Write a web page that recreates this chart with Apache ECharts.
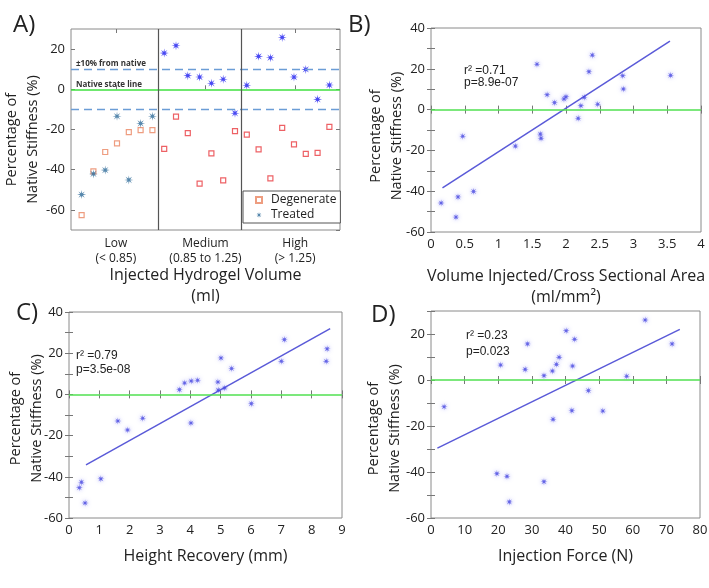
<!DOCTYPE html>
<html>
<head>
<meta charset="utf-8">
<script src="https://cdn.jsdelivr.net/npm/echarts@6/dist/echarts.min.js"></script>
<style>
html, body { margin: 0; padding: 0; background: #fff; }
#chart { width: 709px; height: 588px; }
</style>
</head>
<body>
<div id="chart"></div>
<script>
// A) stiffness per sample, grouped by injected volume
var groupLabels = ['Low\n(< 0.85)', 'Medium\n(0.85 to 1.25)', 'High\n(> 1.25)'];
var groupEdges = [7.5, 14.5];
var sampleIdx = [1, 2, 3, 4, 5, 6, 7, 8, 9, 10, 11, 12, 13, 14, 15, 16, 17, 18, 19, 20, 21, 22];
var degenerate = [-62.6, -40.8, -31.2, -26.9, -21.3, -20.3, -20.3, -29.6, -13.6, -21.8, -46.9, -31.9, -45.3, -20.8, -22.5, -29.9, -44.3, -19.2, -27.4, -32.1, -31.6, -18.7];
var treated = [-52.4, -42.1, -40.2, -13.4, -45.1, -17.0, -13.4, 18.0, 21.7, 6.8, 6.1, 3.0, 5.0, -11.9, 2.0, 16.4, 15.7, 25.8, 6.1, 9.9, -5.0, 2.1];

// B) volume / cross sectional area
var volX = [0.15, 0.40, 0.37, 0.47, 0.63, 1.25, 1.57, 1.62, 1.63, 1.72, 1.83, 1.97, 2.00, 2.18, 2.22, 2.27, 2.34, 2.39, 2.47, 2.84, 2.85, 3.55];
var volY = [-45.8, -42.8, -52.7, -13.1, -40.1, -17.9, 22.2, -12.0, -14.1, 7.3, 3.4, 5.2, 6.3, -4.3, 1.9, 6.0, 18.6, 26.7, 2.6, 16.6, 10.1, 16.8];
var volFit = [[0.17, -38.4], [3.54, 33.6]];

// C) height recovery
var heightX = [0.34, 0.41, 0.53, 1.05, 1.61, 1.93, 2.43, 3.64, 3.81, 4.03, 4.02, 4.24, 4.91, 4.92, 5.01, 5.13, 5.36, 6.01, 7.00, 7.10, 8.48, 8.51];
var heightY = [-45.3, -42.6, -52.7, -41.0, -12.9, -17.3, -11.6, 2.3, 5.5, 6.5, -13.9, 6.9, 6.0, 2.1, 17.7, 3.1, 12.6, -4.5, 16.1, 26.6, 16.1, 22.1];
var heightFit = [[0.56, -34.2], [8.61, 31.9]];

// D) injection force
var forceX = [3.9, 19.6, 20.7, 22.6, 23.3, 28.0, 28.7, 33.6, 33.6, 36.1, 36.3, 37.3, 38.1, 40.2, 41.9, 42.1, 42.7, 46.8, 51.1, 58.2, 63.7, 71.7];
var forceY = [-11.6, -40.7, 6.5, -41.9, -53.0, 4.6, 15.7, 1.9, -44.2, 3.9, -17.1, 6.8, 9.9, 21.4, -13.3, 6.1, 17.7, -4.6, -13.5, 1.6, 26.1, 15.7];
var forceFit = [[1.9, -29.6], [74.0, 22.0]];

var stats = {
    B: ['r² =0.71', 'p=8.9e-07'],
    C: ['r² =0.79', 'p=3.5e-08'],
    D: ['r² =0.23', 'p=0.023']
};

var FONT = 'Open Sans';
// asterisk-like marker
var STAR = 'path://M5,0L1.5,0.6L3.54,3.54L0.6,1.5L0,5L-0.6,1.5L-3.54,3.54L-1.5,0.6L-5,0L-1.5,-0.6L-3.54,-3.54L-0.6,-1.5L0,-5L0.6,-1.5L3.54,-3.54L1.5,-0.6Z';

var dom = document.getElementById('chart');
var myChart = echarts.init(dom);

var tickStyle = { show: true, inside: true, length: 4, lineStyle: { color: '#777' } };
var minor = { show: true, splitNumber: 2, length: 4, lineStyle: { color: '#777' } };

function axis(type, grid, pos, min, max, interval, labelled) {
    return {
        type: type, gridIndex: grid, position: pos,
        min: min, max: max, interval: interval,
        axisLine: { show: false },
        axisTick: tickStyle,
        splitLine: { show: false },
        axisLabel: { show: labelled, margin: 6, fontFamily: FONT, fontSize: 13, color: '#222' },
        nameMoveOverlap: false
    };
}
function xName(ax, name, gap) {
    ax.name = name;
    ax.nameLocation = 'middle';
    ax.nameGap = gap;
    ax.nameTextStyle = { fontFamily: FONT, fontSize: 16, lineHeight: 21, color: '#222' };
    return ax;
}
function yName(ax, gap, shift) {
    ax.name = 'Percentage of\nNative Stiffness (%)';
    ax.nameLocation = 'middle';
    ax.nameGap = gap;
    ax.nameTextStyle = { fontFamily: FONT, fontSize: 14.5, lineHeight: 21, color: '#222', padding: [0, shift, 0, 0] };
    return ax;
}
function yMinor(grid, pos, min, max, labelled) {
    var a = axis('value', grid, pos, min, max, 20, labelled);
    a.minorTick = minor;
    a.axisLabel.showMaxLabel = max % 20 === 0;
    return a;
}
function pairs(xs, ys) {
    return xs.map(function (x, i) { return [x, ys[i]]; });
}

// panel A axes
var axA = axis('value', 0, 'bottom', 0.1, 22.9, null, false);
axA.axisTick = { show: false };
xName(axA, 'Injected Hydrogel Volume\n(ml)', 35);
var catTick = { show: true, inside: true, length: 4, alignWithLabel: true, lineStyle: { color: '#777' } };
var catA = {
    type: 'category', gridIndex: 0, position: 'bottom', data: groupLabels,
    axisLine: { show: false }, axisTick: catTick,
    axisLabel: { interval: 0, margin: 6, fontFamily: FONT, fontSize: 12, lineHeight: 15, color: '#222' }
};
var catAtop = {
    type: 'category', gridIndex: 0, position: 'top', data: groupLabels,
    axisLine: { show: false }, axisTick: catTick,
    axisLabel: { show: false }
};
var yA = yName(axis('value', 0, 'left', -70, 30, null, true), 28, 20);
yA.splitNumber = 5;
yA.axisLabel.showMinLabel = false;
yA.axisLabel.showMaxLabel = false;
var yAr = axis('value', 0, 'right', -70, 30, null, false);
yAr.splitNumber = 5;

var noteLabel = { show: true, position: 'insideStartTop', distance: [5, 1], fontFamily: FONT, fontSize: 8, fontWeight: 'bold', color: '#333' };

var series = [{
    name: 'Degenerate',
    type: 'scatter',
    xAxisIndex: 0, yAxisIndex: 0,
    symbol: 'rect', symbolSize: 5,
    itemStyle: { color: '#fff', borderColor: '#ea8560', borderWidth: 1.2 },
    z: 3,
    data: sampleIdx.map(function (x, i) {
        return x > groupEdges[0]
            ? { value: [x, degenerate[i]], itemStyle: { borderColor: '#e83a3f' } }
            : [x, degenerate[i]];
    })
}, {
    name: 'Treated',
    type: 'scatter',
    xAxisIndex: 0, yAxisIndex: 0,
    symbol: STAR, symbolSize: 9,
    itemStyle: { color: '#2d6a98' },
    z: 4,
    data: sampleIdx.map(function (x, i) {
        return x > groupEdges[0]
            ? { value: [x, treated[i]], itemStyle: { color: '#1c1cf0' } }
            : [x, treated[i]];
    }),
    markLine: {
        silent: true, symbol: ['none', 'none'], animation: false,
        lineStyle: { color: '#6b9dd6', width: 1.3, type: [8, 5], opacity: 1 },
        data: [
            { yAxis: 10, label: echarts.util.extend({ formatter: '±10% from native' }, noteLabel) },
            { yAxis: 0, lineStyle: { color: '#3fe03f', width: 1.5, type: 'solid' },
              label: echarts.util.extend({ formatter: 'Native state line' }, noteLabel) },
            { yAxis: -10, label: { show: false } },
            { xAxis: groupEdges[0], lineStyle: { color: '#555', width: 1.2, type: 'solid' }, label: { show: false } },
            { xAxis: groupEdges[1], lineStyle: { color: '#555', width: 1.2, type: 'solid' }, label: { show: false } }
        ]
    }
}];

// panels B-D: [xAxisIndex, yAxisIndex, x, y, fit]
[[3, 2, volX, volY, volFit], [5, 4, heightX, heightY, heightFit], [7, 6, forceX, forceY, forceFit]].forEach(function (p) {
    series.push({
        type: 'scatter', xAxisIndex: p[0], yAxisIndex: p[1],
        symbol: STAR, symbolSize: 7,
        itemStyle: { color: '#4444e0', shadowBlur: 4, shadowColor: 'rgba(130,130,250,0.9)' },
        z: 4,
        data: pairs(p[2], p[3])
    });
    series.push({
        type: 'line', xAxisIndex: p[0], yAxisIndex: p[1],
        showSymbol: false, symbol: 'none',
        lineStyle: { color: '#5a5ad8', width: 1.5 },
        z: 3,
        data: p[4],
        markLine: {
            silent: true, symbol: ['none', 'none'], animation: false,
            label: { show: false },
            lineStyle: { color: '#50e050', width: 1.5, type: 'solid' },
            data: [{ yAxis: 0 }]
        }
    });
});

function txt(x, y, s, size, family) {
    return { type: 'text', x: x, y: y, style: { text: s, fontFamily: family, fontSize: size, fill: '#222', verticalAlign: 'middle' } };
}

option = {
    backgroundColor: '#fff',
    animation: false,
    textStyle: { fontFamily: FONT },
    grid: [
        { left: 71, top: 29, width: 269, height: 201 },
        { left: 431, top: 28, width: 270, height: 204 },
        { left: 69, top: 312, width: 273, height: 206 },
        { left: 431, top: 311, width: 269, height: 207 }
    ].map(function (g) {
        g.show = true; g.borderColor = '#8a8a8a'; g.borderWidth = 1; g.backgroundColor = '#fff';
        g.outerBoundsMode = 'none';
        return g;
    }),
    legend: {
        data: ['Degenerate', 'Treated'],
        orient: 'vertical',
        left: 243, top: 191,
        itemWidth: 6, itemHeight: 6, itemGap: 3,
        padding: [3, 4, 2, 12],
        borderColor: '#555', borderWidth: 1, backgroundColor: '#fff',
        textStyle: { fontFamily: FONT, fontSize: 12, color: '#222', padding: [0, 0, 0, 4] }
    },
    xAxis: [
        axA, catA, catAtop,
        xName(axis('value', 1, 'bottom', 0, 4, 0.5, true), 'Volume Injected/Cross Sectional Area\n(ml/mm²)', 34),
        axis('value', 1, 'top', 0, 4, 0.5, false),
        xName(axis('value', 2, 'bottom', 0, 9, 1, true), 'Height Recovery (mm)', 28),
        axis('value', 2, 'top', 0, 9, 1, false),
        xName(axis('value', 3, 'bottom', 0, 80, 10, true), 'Injection Force (N)', 28),
        axis('value', 3, 'top', 0, 80, 10, false)
    ],
    yAxis: [
        yA, yAr,
        yName(yMinor(1, 'left', -60, 40, true), 24, 12),
        yMinor(1, 'right', -60, 40, false),
        yName(yMinor(2, 'left', -60, 40, true), 22, 7),
        yMinor(2, 'right', -60, 40, false),
        yName(yMinor(3, 'left', -60, 30, true), 26, 28),
        yMinor(3, 'right', -60, 30, false)
    ],
    graphic: [
        txt(13, 25, 'A)', 24, FONT),
        txt(348, 25, 'B)', 24, FONT),
        txt(16, 313, 'C)', 24, FONT),
        txt(371, 315, 'D)', 24, FONT),
        txt(464, 71, stats.B[0], 12, 'Liberation Sans'),
        txt(464, 83, stats.B[1], 12, 'Liberation Sans'),
        txt(76, 356, stats.C[0], 12, 'Liberation Sans'),
        txt(76, 370, stats.C[1], 12, 'Liberation Sans'),
        txt(466, 336, stats.D[0], 12, 'Liberation Sans'),
        txt(466, 352, stats.D[1], 12, 'Liberation Sans')
    ],
    series: series
};

if (option && typeof option === 'object') {
    myChart.setOption(option, true);
}
</script>
</body>
</html>
